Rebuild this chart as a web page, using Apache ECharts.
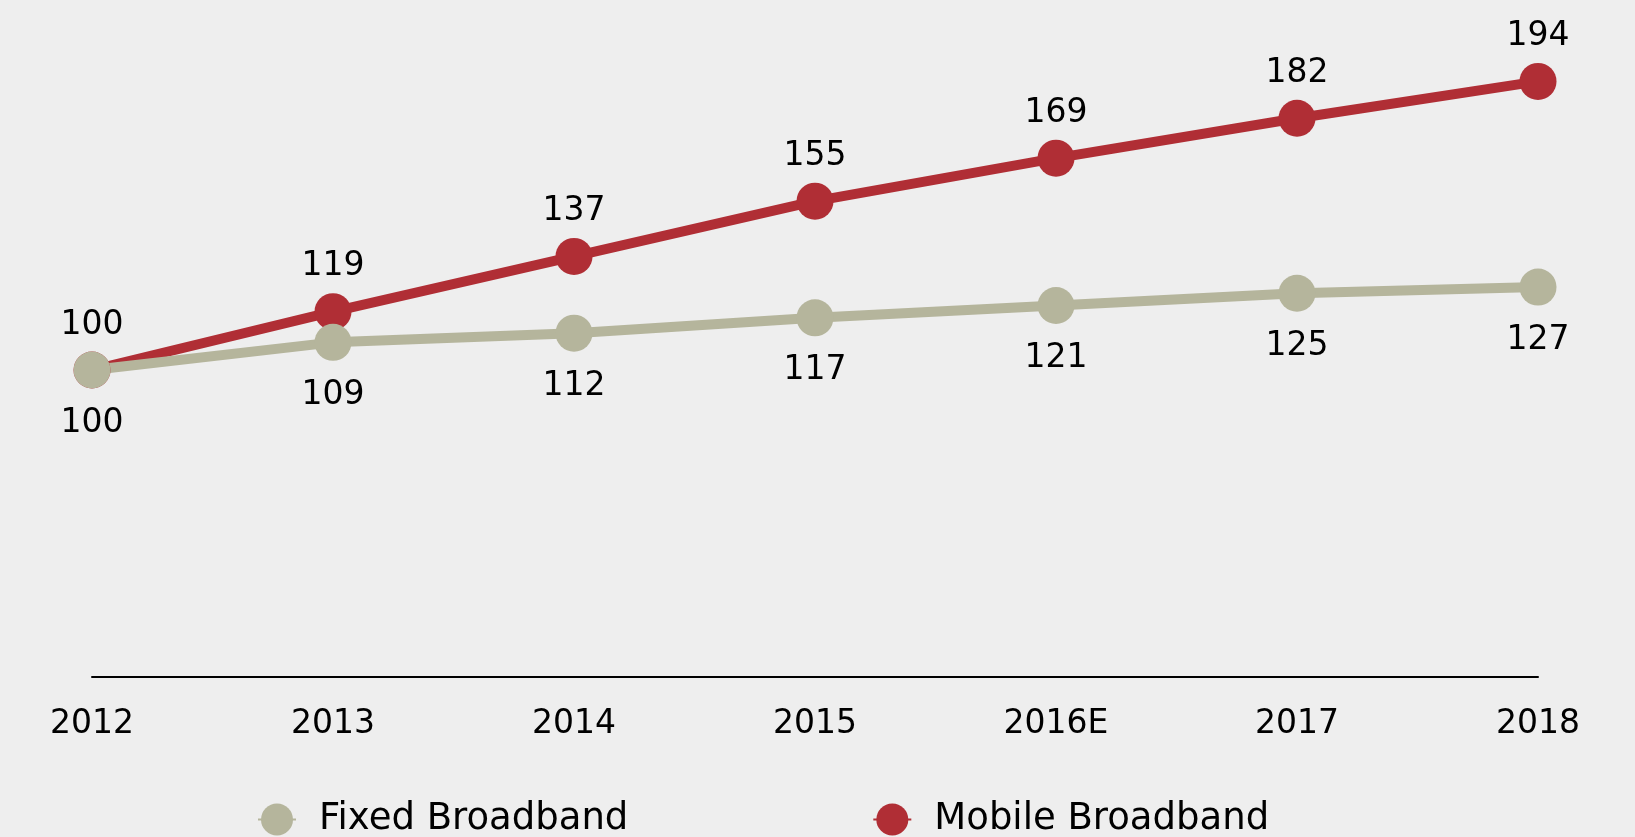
<!DOCTYPE html>
<html style="height: 100%">

<head>
    <meta charset="UTF-8" />
    <script type="text/javascript" src="https://cdn.jsdelivr.net/npm/echarts@6.0.0/dist/echarts.min.js"></script>
</head>

<body style="height: 100%; margin: 0; background: #eeeeee">
    <div id="container" style="height: 100%"></div>
    <script>
        var years = ['2012', '2013', '2014', '2015', '2016E', '2017', '2018'];
        var fixedBroadband = [100, 109, 112, 117, 121, 125, 127];
        var mobileBroadband = [100, 119, 137, 155, 169, 182, 194];

        var font = 'DejaVu Sans';
        var dom = document.getElementById("container");
        var chart = echarts.init(dom);

        var option = {
            backgroundColor: '#eeeeee',
            animation: false,
            textStyle: { fontFamily: font },
            grid: { left: 92, right: 97, top: 63, bottom: 160 },
            legend: {
                left: 252,
                top: 796,
                itemWidth: 38,
                itemHeight: 40,
                itemGap: 244,
                textStyle: { fontSize: 37, color: '#000', fontFamily: font, padding: [0, 0, 0, 18] },
                data: ['Fixed Broadband', 'Mobile Broadband']
            },
            xAxis: {
                type: 'category',
                data: years,
                boundaryGap: false,
                axisLine: { lineStyle: { color: '#000', width: 2 } },
                axisTick: { show: false },
                axisLabel: { fontSize: 33, color: '#000', margin: 31, fontFamily: font }
            },
            yAxis: {
                type: 'value',
                min: 0,
                max: 200,
                show: false,
                splitLine: { show: false }
            },
            series: [
                {
                    name: 'Mobile Broadband',
                    type: 'line',
                    data: mobileBroadband,
                    symbol: 'circle',
                    symbolSize: 37,
                    color: '#b02e35',
                    lineStyle: { width: 10, color: '#b02e35' },
                    label: { show: true, position: 'top', distance: 10, fontSize: 33, color: '#000', fontFamily: font }
                },
                {
                    name: 'Fixed Broadband',
                    type: 'line',
                    data: fixedBroadband,
                    symbol: 'circle',
                    symbolSize: 37,
                    color: '#b5b59c',
                    lineStyle: { width: 10, color: '#b5b59c' },
                    label: { show: true, position: 'bottom', distance: 18, fontSize: 33, color: '#000', fontFamily: font }
                }
            ]
        };

        chart.setOption(option);
    </script>
</body>

</html>
